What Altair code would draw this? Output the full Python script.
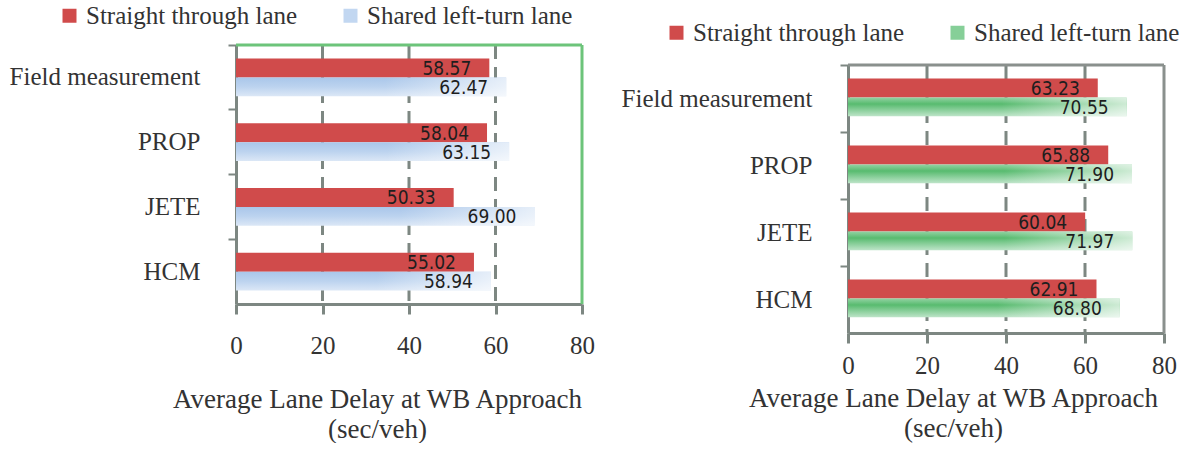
import altair as alt
import pandas as pd

# Methods (top to bottom) and the two lane types
methods = ["Field measurement", "PROP", "JETE", "HCM"]
lanes = ["Straight through lane", "Shared left-turn lane"]

# Average lane delay (sec/veh), left panel
left_straight = [58.57, 58.04, 50.33, 55.02]
left_shared = [62.47, 63.15, 69.00, 58.94]

# Average lane delay (sec/veh), right panel
right_straight = [63.23, 65.88, 60.04, 62.91]
right_shared = [70.55, 71.90, 71.97, 68.80]

x_ticks = [0, 20, 40, 60, 80]
x_title = ["Average Lane Delay at WB Approach", "(sec/veh)"]

SERIF = "Liberation Serif"
NUM_FONT = "DejaVu Sans Condensed, DejaVu Sans"
GREY = "#7d8782"
TEXT = "#333333"
RED = "#d04b4b"


def frame(straight, shared):
    rows = []
    for m, a, b in zip(methods, straight, shared):
        rows.append({"method": m, "lane": lanes[0], "delay": a})
        rows.append({"method": m, "lane": lanes[1], "delay": b})
    return pd.DataFrame(rows)


def vgrad(stops):
    return alt.LinearGradient(
        gradient="linear", x1=0, y1=0, x2=0, y2=1,
        stops=[alt.GradientStop(offset=o, color=c) for o, c in stops],
    )


# white wash towards the end of the shared-lane bars
fade = alt.LinearGradient(
    gradient="linear", x1=0, y1=0, x2=1, y2=0,
    stops=[
        alt.GradientStop(offset=0, color="rgba(255,255,255,0)"),
        alt.GradientStop(offset=0.55, color="rgba(255,255,255,0)"),
        alt.GradientStop(offset=1, color="rgba(255,255,255,0.7)"),
    ],
)


def panel(straight, shared, legend_fill, shared_fill, width, height, frame_color,
          legend_x, legend_y, label_pad, title_x, title_y, top_gap=0):
    df = frame(straight, shared)
    x_scale = alt.Scale(domain=[x_ticks[0], x_ticks[-1]], nice=False, zero=True)

    x_enc = alt.X(
        "delay:Q", scale=x_scale,
        axis=alt.Axis(
            orient="bottom", values=x_ticks, format="d", title=x_title,
            labelFont=SERIF, labelFontSize=25, labelColor=TEXT,
            labelFlush=False, labelPadding=label_pad,
            titleFont=SERIF, titleFontSize=27, titleFontWeight="normal",
            titleColor=TEXT, titleLineHeight=30,
            titleX=title_x, titleY=title_y, titleAlign="center",
            titleBaseline="top",
            domainColor=GREY, domainWidth=3,
            tickColor=GREY, tickWidth=3, tickSize=10,
            grid=False,
        ),
    )
    y_enc = alt.Y(
        "method:N", sort=methods,
        scale=alt.Scale(paddingInner=0, paddingOuter=0, range=[top_gap, height]),
        axis=alt.Axis(
            title=None, labelFont=SERIF, labelFontSize=25, labelColor=TEXT,
            labelPadding=28, labelLimit=320,
            domainColor=GREY, domainWidth=3,
            tickColor=GREY, tickWidth=2, tickSize=8, bandPosition=0,
            grid=False,
        ),
    )
    y_off = alt.YOffset(
        "lane:N", sort=lanes,
        scale=alt.Scale(domain=lanes, paddingInner=0, paddingOuter=0.72),
    )
    color = alt.Color(
        "lane:N",
        scale=alt.Scale(domain=lanes, range=[RED, legend_fill]),
        legend=alt.Legend(
            orient="none", legendX=legend_x, legendY=legend_y,
            direction="horizontal", title=None,
            symbolType="square", symbolSize=196, symbolStrokeWidth=0,
            labelFont=SERIF, labelFontSize=25, labelColor=TEXT,
            labelOffset=4, columnPadding=40, labelLimit=400,
        ),
    )

    # frame and grid: a 0..1 vertical scale spanning the category bands
    span = alt.Scale(domain=[0, 1], range=[top_gap, height])
    y_top = alt.YDatum(0, type="quantitative", scale=span, axis=None)
    y_bottom = alt.Y2Datum(1)

    grid_df = pd.DataFrame({"tick": x_ticks[1:-1]})
    grid = alt.Chart(grid_df).mark_rule(
        color=GREY, strokeWidth=3, strokeDash=[14, 8]
    ).encode(x=alt.X("tick:Q", scale=x_scale), y=y_top, y2=y_bottom)

    edge_df = pd.DataFrame({"tick": [x_ticks[-1]]})
    right_edge = alt.Chart(edge_df).mark_rule(
        color=frame_color, strokeWidth=3
    ).encode(x=alt.X("tick:Q", scale=x_scale), y=y_top, y2=y_bottom)
    top_edge = alt.Chart(edge_df).mark_rule(
        color=frame_color, strokeWidth=3
    ).encode(x=alt.XDatum(x_ticks[0], scale=x_scale), x2=alt.X2Datum(x_ticks[-1]), y=y_top)

    base = alt.Chart(df).encode(x=x_enc, y=y_enc, yOffset=y_off)
    straight_bars = base.transform_filter(alt.datum.lane == lanes[0]).mark_bar().encode(color=color)
    shared_bars = base.transform_filter(alt.datum.lane == lanes[1]).mark_bar(fill=shared_fill)
    shared_wash = base.transform_filter(alt.datum.lane == lanes[1]).mark_bar(fill=fade)
    values = base.mark_text(
        align="right", baseline="middle", dx=-18, dy=1,
        font=NUM_FONT, fontSize=19, color="#1e1e1e",
    ).encode(text=alt.Text("delay:Q", format=".2f"))

    bars = alt.layer(straight_bars, shared_bars, shared_wash, values)
    rules = alt.layer(grid, right_edge, top_edge)
    return alt.layer(rules, bars).resolve_scale(y="independent").properties(
        width=width, height=height,
        view=alt.ViewBackground(stroke="transparent", fill="white"),
    )


blue_fill = vgrad([(0, "#a9c6ea"), (0.5, "#bcd3ef"), (1, "#dbe7f6")])
green_fill = vgrad([(0, "#94d3a4"), (0.35, "#58bb6f"), (1, "#bde4c8")])

left = panel(left_straight, left_shared, "#c2d7f1", blue_fill,
             width=346, height=259, frame_color="#6cc47a",
             legend_x=-179, legend_y=-42, label_pad=19,
             title_x=141, title_y=82)
# the right panel's frame starts 20 px below the shared top line
right = panel(right_straight, right_shared, "#86cf98", green_fill,
              width=316, height=288, frame_color="#8a908d",
              legend_x=-184, legend_y=-25, label_pad=10,
              title_x=105, title_y=52, top_gap=20)

chart = alt.hconcat(left, right, spacing=25).resolve_scale(
    color="independent"
).resolve_legend(
    color="independent"
).properties(
    padding={"left": 8, "top": 2, "right": 0, "bottom": 0},
    background="white",
).configure(font=SERIF).configure_legend(labelFont=SERIF, labelFontSize=25)

chart.save("out.html", embed_options={"renderer": "svg", "actions": False})
